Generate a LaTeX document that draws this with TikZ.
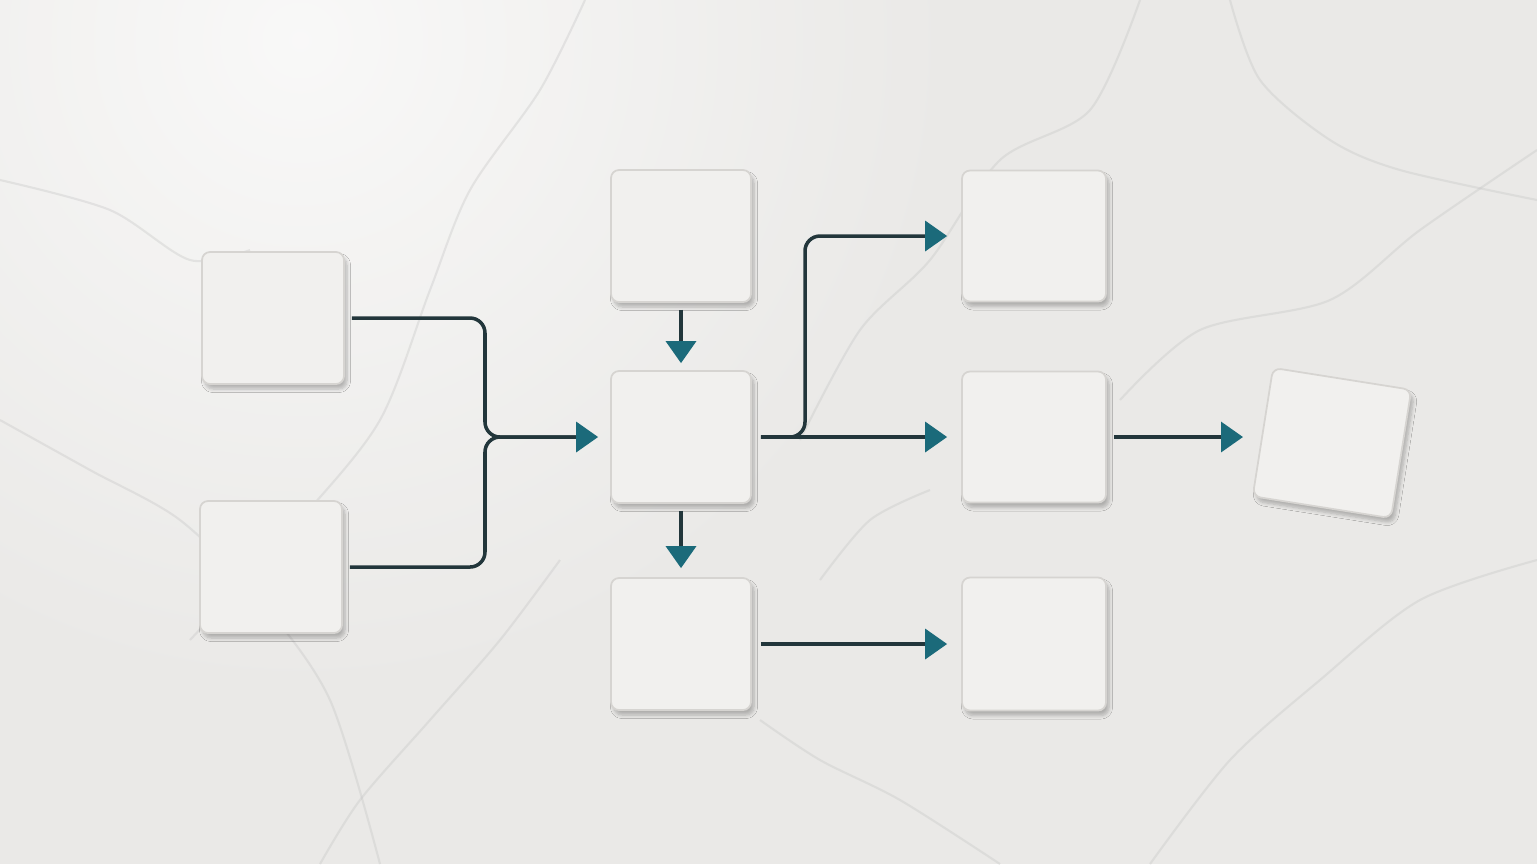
\documentclass[tikz,border=0pt]{standalone}
\usetikzlibrary{arrows.meta,shadows.blur}
\definecolor{marble}{HTML}{EAE9E7}
\definecolor{vein}{HTML}{C4C4C4}
\definecolor{tile}{HTML}{F1F0EE}
\definecolor{tileedge}{HTML}{D6D4D1}
\definecolor{wire}{HTML}{22363B}
\definecolor{tipteal}{HTML}{1B6A7A}
\begin{document}
\begin{tikzpicture}[x=0.1mm,y=-0.1mm,>=latex]
\tikzset{
  tilebox/.style={draw=tileedge,fill=tile,rounded corners=0.8mm,line width=0.5pt,minimum width=1.42cm,minimum height=1.32cm,
    blur shadow={shadow xshift=0.3mm,shadow yshift=-0.5mm,shadow blur steps=6,shadow blur radius=0.35mm,shadow opacity=25}},
  wire/.style={draw=wire,line width=1pt,rounded corners=1.5mm},
  arrow/.style={wire,-{Triangle[length=2.2mm,width=3mm,color=tipteal]}},
  veinline/.style={draw=vein,line width=0.6pt,opacity=0.35}
}
% marble background
\useasboundingbox (0,0) rectangle (1537,864);
\fill[marble] (0,0) rectangle (1537,864);
\begin{scope}
\clip (0,0) rectangle (1537,864);
\shade[inner color=white!70!marble,outer color=marble] (300,40) circle (650);
\draw[veinline] plot[smooth] coordinates {(585,0) (540,90) (470,190) (430,290) (380,420) (300,520) (190,640)};
\draw[veinline] plot[smooth] coordinates {(1140,0) (1090,110) (1000,160) (930,260) (860,330) (800,440)};
\draw[veinline] plot[smooth] coordinates {(1537,150) (1420,230) (1330,300) (1200,330) (1120,400)};
\draw[veinline] plot[smooth] coordinates {(0,420) (90,470) (180,520) (260,600) (330,700) (380,864)};
\draw[veinline] plot[smooth] coordinates {(560,560) (500,640) (430,720) (360,800) (320,864)};
\draw[veinline] plot[smooth] coordinates {(1537,560) (1420,600) (1320,680) (1230,760) (1150,864)};
\draw[veinline] plot[smooth] coordinates {(0,180) (110,210) (190,260) (250,250)};
\draw[veinline] plot[smooth] coordinates {(760,720) (820,760) (900,800) (1000,864)};
\draw[veinline] plot[smooth] coordinates {(1230,0) (1260,80) (1330,140) (1400,170) (1537,200)};
\draw[veinline] plot[smooth] coordinates {(820,580) (870,520) (930,490)};
\end{scope}
% tiles
\node[tilebox] (in1) at (273,318) {};
\node[tilebox] (in2) at (271,567) {};
\node[tilebox,minimum width=1.4cm] (top) at (681,236) {};
\node[tilebox,minimum width=1.4cm] (hub) at (681,437) {};
\node[tilebox,minimum width=1.4cm] (low) at (681,644) {};
\node[tilebox,minimum width=1.44cm,minimum height=1.31cm] (out1) at (1034,236) {};
\node[tilebox,minimum width=1.44cm,minimum height=1.31cm] (out2) at (1034,437) {};
\node[tilebox,minimum width=1.44cm,minimum height=1.33cm] (out3) at (1034,644) {};
\node[tilebox,minimum width=1.4cm,minimum height=1.3cm,rotate=-9] (final) at (1332,443) {};
% connectors
\coordinate (join) at (485,437);
\coordinate (split) at (805,437);
\draw[wire,shorten <=0.7mm,shorten >=1.6mm] (in1.east) -| (join) -- (hub.west);
\draw[arrow,shorten <=0.7mm,shorten >=1.2mm] (in2.east) -| (join) -- (hub.west);
\draw[arrow,shorten <=0.7mm,shorten >=0.7mm] (top.south) -- (hub.north);
\draw[arrow,shorten <=0.7mm,shorten >=0.9mm] (hub.south) -- (low.north);
\draw[arrow,shorten <=0.9mm,shorten >=1.4mm] (hub.east) -- (split) |- (out1.west);
\draw[arrow,shorten <=0.9mm,shorten >=1.4mm] (hub.east) -- (out2.west);
\draw[arrow,shorten <=0.9mm,shorten >=1.4mm] (low.east) -- (out3.west);
\draw[arrow,shorten <=0.7mm,shorten >=1.9mm] (out2.east) -- (final.west |- out2.east);
\end{tikzpicture}
\end{document}
